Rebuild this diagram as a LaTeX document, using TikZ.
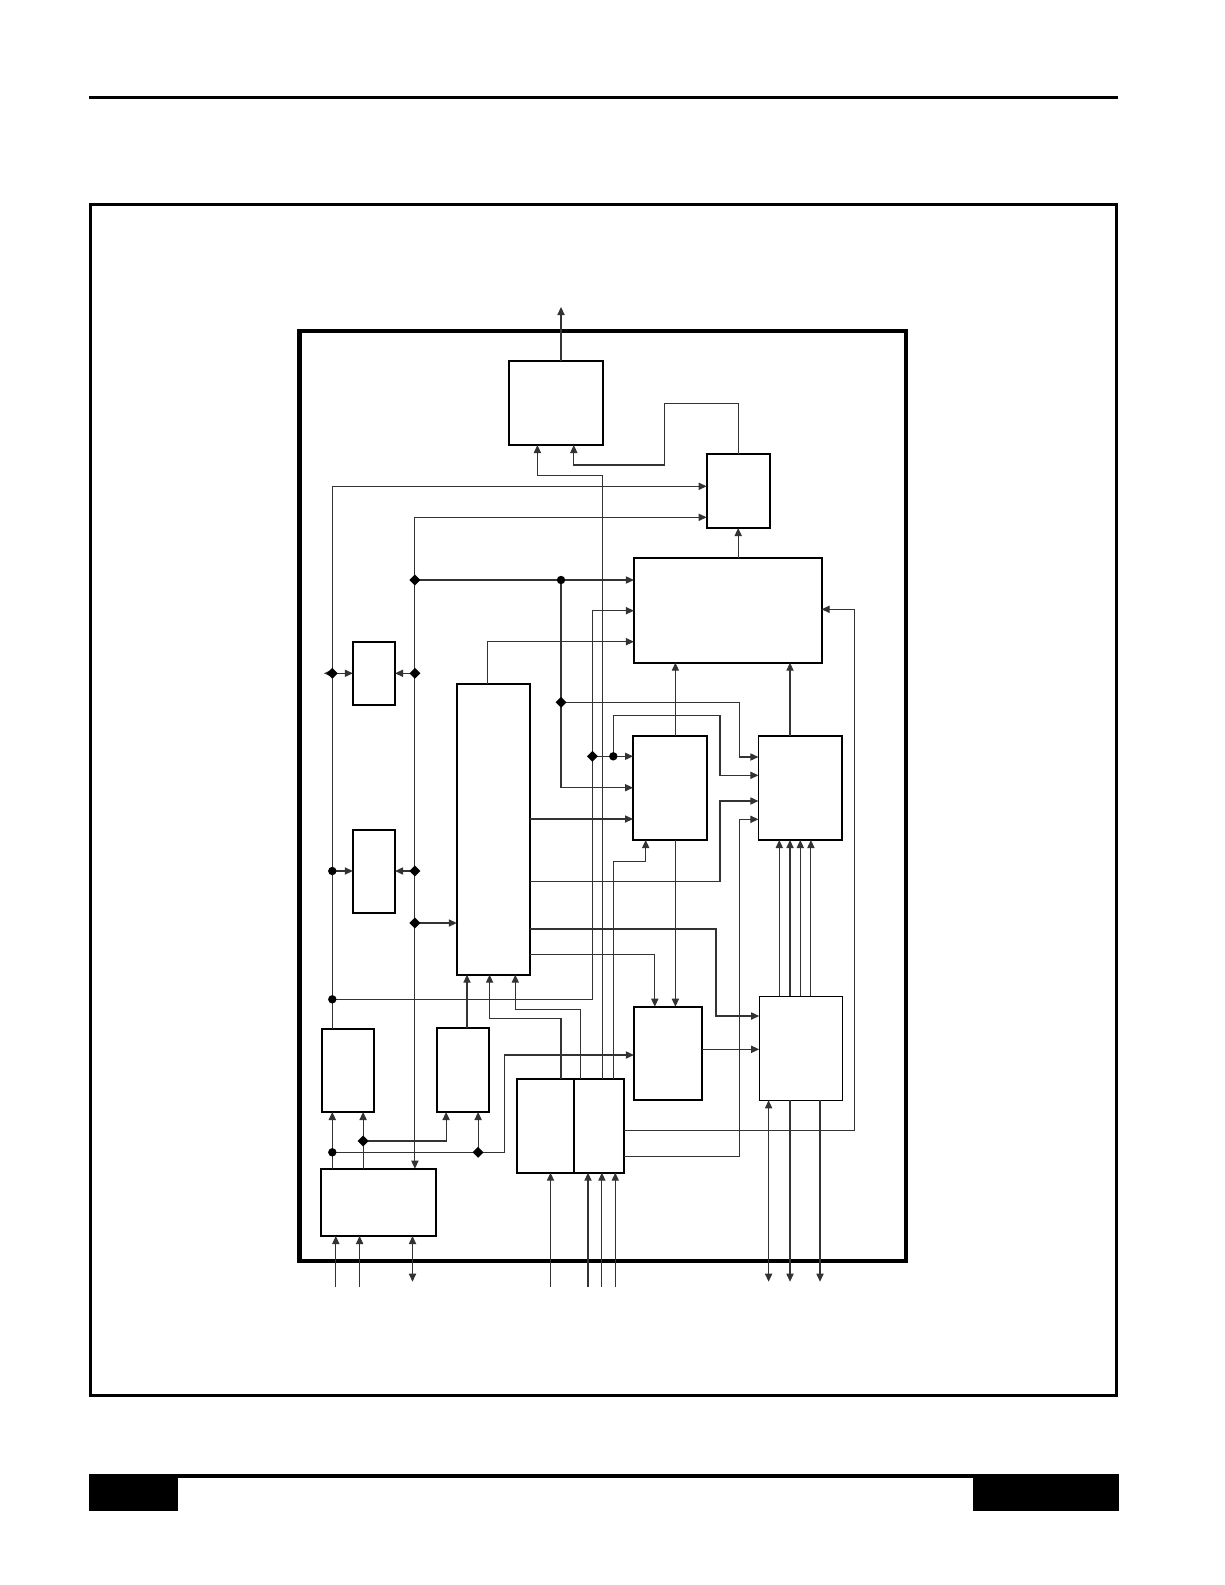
\documentclass[tikz,border=0pt]{standalone}
\usetikzlibrary{arrows.meta,fit,shapes.geometric}
\begin{document}
\begin{tikzpicture}[x=0.5pt,y=-0.5pt,
  box/.style={draw, line width=0.9pt, inner sep=0pt, outer sep=0pt},
  thinbox/.style={draw, line width=0.5pt, inner sep=0pt, outer sep=0pt},
  wire/.style={line width=0.55pt, draw=black!80},
  arr/.style={wire, -{Triangle[length=4pt,width=3.6pt]}},
  barr/.style={wire, {Triangle[length=4pt,width=3.6pt]}-{Triangle[length=4pt,width=3.6pt]}},
  jd/.style={diamond, fill=black, inner sep=0pt, minimum size=5.6pt},
  jc/.style={circle, fill=black, inner sep=0pt, minimum size=4.2pt},
]
\useasboundingbox (0,0) rectangle (1225,1585);
% page decoration
\fill (89,95.7) rectangle (1118,98.7);
\draw[line width=1.25pt] (90.5,204.5) rectangle (1116.5,1395.5);
\fill (89,1474) rectangle (1119,1478);
\fill (89,1474) rectangle (178,1511);
\fill (973,1474) rectangle (1119,1511);
% inner frame
\draw[line width=2.3pt] (299.5,331) rectangle (906,1261);

% boxes
\node[box, fit={(508.6,360.7) (603,445)}] (A) {};
\node[box, fit={(706.6,454.3) (769.8,528)}] (B) {};
\node[box, fit={(633.9,558.3) (821.6,662.7)}] (C) {};
\node[box, fit={(352.8,641.7) (395.1,705)}] (D) {};
\node[box, fit={(352.8,829.7) (395.1,913.3)}] (E) {};
\node[box, fit={(456.8,684) (529.9,974.7)}] (F) {};
\node[box, fit={(633,736) (707,840)}] (G) {};
\node[box, fit={(758.4,736) (842.2,840)}] (H) {};
\node[box, fit={(633.9,1006.7) (701.9,1100)}] (I) {};
\node[thinbox, fit={(759.2,996) (842.2,1100.3)}] (J) {};
\node[box, fit={(321.6,1028.7) (374.2,1112)}] (K) {};
\node[box, fit={(436.6,1027.7) (488.8,1112)}] (L) {};
\node[box, fit={(516.9,1078.7) (573.8,1172.7)}] (M) {};
\node[box, fit={(573.8,1079.3) (624,1172.7)}] (N) {};
\node[box, fit={(320.8,1168.7) (436.2,1236)}] (O) {};

% junction coordinates
\coordinate (jC1) at (414.9,580);
\coordinate (jC2) at (561,580);
\coordinate (jD1) at (332.3,673.3);
\coordinate (jD2) at (414.9,673.3);
\coordinate (jE1) at (332.3,871);
\coordinate (jE2) at (414.9,871);
\coordinate (jF) at (414.9,923);
\coordinate (jG1) at (561,702.3);
\coordinate (jG2) at (592.4,756.3);
\coordinate (jG3) at (613.3,756.3);
\coordinate (jK0) at (332.3,999.3);
\coordinate (jK1) at (332.3,1152.3);
\coordinate (jK2) at (363.1,1141);
\coordinate (jL) at (478.1,1152.3);

% free ends
\coordinate (out) at (561,307);
\coordinate (dstub) at (324,673.3);

% connectors
\draw[arr] (A.north -| out) -- (out);
\draw[arr] (B.north) |- (664.7,403.3) -- (664.7,465) -| (A.south -| 573.8,0);
\draw[arr] (B.south |- C.north) -- (B.south);
\draw[arr] (332.3,0 |- K.north) |- (B.west |- 0,486.3);
\draw[barr] (O.north -| 414.9,0) |- (B.west |- 0,517.3);
\draw[arr] (jC1) -- (C.west |- jC1);
\draw[arr] (jK0) -| (592.4,610.7) -- (C.west |- 0,610.7);
\draw[arr] (F.north -| 487.6,0) |- (C.west |- 0,641.7);
\draw[arr] (N.east |- 0,1130.3) -| (854.4,609.3) -- (C.east |- 0,609.3);
\draw[arr] (G.north -| 675.4,0) -- (C.south -| 675.4,0);
\draw[arr] (H.north -| 790,0) -- (C.south -| 790,0);
% D, E, F left
\draw[arr] (jD1) -- (D.west |- jD1);
\draw[arr] (jD1) -- (dstub);
\draw[arr] (jD2) -- (D.east |- jD2);
\draw[arr] (jE1) -- (E.west |- jE1);
\draw[arr] (jE2) -- (E.east |- jE2);
\draw[arr] (jF) -- (F.west |- jF);
% into G and H
\draw[arr] (jG1) -| (739.4,757) -- (H.west |- 0,757);
\draw[arr] (jC2) |- (G.west |- 0,787.7);
\draw[arr] (jG3) -- (613.3,715.7) -| (720,775.3) -- (H.west |- 0,775.3);
\draw[arr] (jG2) -- (G.west |- jG2);
\draw[arr] (F.east |- 0,819) -- (G.west |- 0,819);
\draw[arr] (F.east |- 0,881.3) -| (720,801) -- (H.west |- 0,801);
\draw[arr] (N.east |- 0,1156.3) -| (739.4,819.3) -- (H.west |- 0,819.3);
\draw[arr] (F.east |- 0,929) -| (716,1016) -- (J.west |- 0,1016);
\draw[arr] (F.east |- 0,954.7) -| (I.north -| 654.8,0);
\draw[arr] (G.south -| 675.4,0) -- (I.north -| 675.4,0);
\draw[arr] (N.north -| 613.3,0) |- (645.7,861.7) -- (G.south -| 645.7,0);
% up to A and F
\draw[arr] (N.north -| 602.3,0) |- (537.4,475.7) -- (A.south -| 537.4,0);
\draw[arr] (N.north -| 580.5,0) |- (515.3,1009.3) -- (F.south -| 515.3,0);
\draw[arr] (M.north -| 561,0) |- (489.6,1018.7) -- (F.south -| 489.6,0);
\draw[arr] (L.north -| 467,0) -- (F.south -| 467,0);
% K, L, O
\draw[arr] (O.north -| 332.3,0) -- (K.south -| 332.3,0);
\draw[arr] (O.north -| 363.1,0) -- (K.south -| 363.1,0);
\draw[arr] (jK2) -| (L.south -| 446.1,0);
\draw[arr] (jK1) -| (504.6,1055) -- (I.west |- 0,1055);
\draw[arr] (jL) -- (L.south -| jL);
% I, J
\draw[arr] (I.east |- 0,1049.3) -- (J.west |- 0,1049.3);
\foreach \x in {779.3,790,800.3,810.9} {
  \draw[arr] (J.north -| \x,0) -- (H.south -| \x,0);
}
\draw[barr] (J.south -| 768.6,0) -- (768.6,1281.7);
\draw[arr] (J.south -| 790,0) -- (790,1281.7);
\draw[arr] (J.south -| 820,0) -- (820,1281.7);
% bottom pins
\draw[arr] (335.8,1286.7) -- (O.south -| 335.8,0);
\draw[arr] (359.6,1286.7) -- (O.south -| 359.6,0);
\draw[barr] (O.south -| 412.5,0) -- (412.5,1281.7);
\draw[arr] (550.5,1286.7) -- (M.south -| 550.5,0);
\foreach \x in {588,601.9,615.3} {
  \draw[arr] (\x,1286.7) -- (N.south -| \x,0);
}

% junction markers
\foreach \j in {jC1,jD1,jD2,jE2,jF,jG1,jG2,jK2,jL} {
  \node[jd] at (\j) {};
}
\foreach \j in {jC2,jE1,jG3,jK0,jK1} {
  \node[jc] at (\j) {};
}
\end{tikzpicture}
\end{document}
